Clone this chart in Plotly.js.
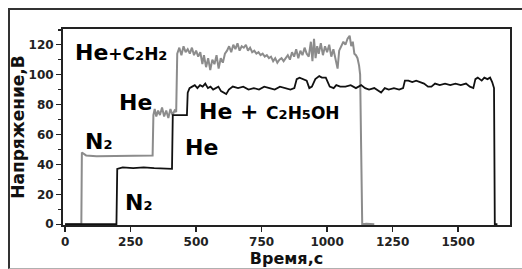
<!DOCTYPE html>
<html>
<head>
<meta charset="utf-8">
<script src="https://cdn.plot.ly/plotly-3.0.1.min.js"></script>
<style>
  html, body { margin: 0; padding: 0; background: #fff; }
  #wrap { position: relative; width: 522px; height: 269px; overflow: hidden; }
  #frame { position: absolute; left: 8px; top: 8px; width: 600px; height: 258px;
           border-top: 2px solid #333; border-left: 2px solid #333; border-bottom: 1px solid #b0b0b0; }
  #chart { position: absolute; left: 0; top: 0; width: 522px; height: 269px; }
</style>
</head>
<body>
<div id="wrap">
  <div id="frame"></div>
  <div id="chart"></div>
</div>
<script>
// He + C2H2 (grey trace): time (s) and voltage (V)
const timeC2H2 = [0, 62, 64, 80, 120, 160, 200, 250, 300, 334, 337, 342, 348, 355, 362, 370, 378, 386, 394, 402, 410, 418, 424,
  428, 436, 444, 452, 460, 468, 476, 484, 492, 500, 508, 516, 524, 530, 538, 546, 554, 562, 570, 578, 586, 594, 602, 610,
  618, 626, 634, 642, 650, 658, 666, 674, 682, 690, 698, 706, 714, 722, 730, 738, 746, 754, 762, 770, 778, 786, 794, 802,
  810, 818, 826, 834, 842, 850, 858, 866, 874, 882, 890, 898, 906, 914, 922, 930, 938, 944, 950, 956, 962, 968, 976, 984,
  992, 1000, 1008, 1016, 1024, 1032, 1040, 1046, 1054, 1062, 1070, 1078, 1086, 1092, 1098, 1104, 1110, 1116, 1122, 1126,
  1130, 1134, 1150, 1165, 1180];
const voltC2H2 = [0, 0, 48, 46, 45.5, 45.5, 45.5, 45.5, 46, 46, 73, 77, 72, 76, 73, 78, 72, 76, 71, 77, 73, 76, 75,
  114, 118, 113, 119, 115, 117, 114, 118, 113, 116, 112, 115, 107, 113, 105, 111, 103, 110, 107, 113, 104, 111, 108, 114,
  116, 119, 115, 120, 117, 121, 116, 119, 118, 120, 116, 118, 115, 116, 114, 115, 113, 114, 112, 113, 111, 112, 109, 111,
  108, 110, 111, 109, 111, 113, 110, 115, 112, 117, 111, 116, 113, 118, 114, 112, 122, 109, 124, 111, 119, 114, 121, 113,
  119, 115, 120, 112, 117, 111, 104, 116, 119, 122, 120, 124, 126, 119, 122, 114, 113, 111, 106, 100,
  50, 0, 0.4, 0, 0];

// He + C2H5OH (black trace): time (s) and voltage (V)
const timeC2H5OH = [0, 196, 199, 220, 260, 300, 340, 380, 408, 411, 440, 465, 468, 475, 485, 495, 505, 515, 525, 535, 545,
  555, 565, 575, 585, 595, 605, 615, 625, 640, 660, 680, 700, 720, 740, 760, 780, 800, 820, 840, 860, 875, 884, 895, 910,
  922, 932, 942, 955, 970, 980, 995, 1010, 1025, 1035, 1050, 1070, 1090, 1110, 1130, 1145, 1160, 1180, 1195, 1206, 1220,
  1235, 1255, 1275, 1290, 1297, 1310, 1325, 1340, 1355, 1370, 1385, 1398, 1412, 1430, 1450, 1470, 1490, 1510, 1530, 1545,
  1558, 1566, 1575, 1590, 1600, 1612, 1622, 1630, 1637, 1640, 1650];
const voltC2H5OH = [0, 0, 37, 38, 37.5, 38, 37.5, 37, 37, 73, 73, 73, 88, 91, 92, 93, 91, 93, 92, 94, 91,
  92, 90, 91, 92, 89, 88, 87, 90, 92, 91, 92, 90, 91, 90, 92, 91, 90, 92, 91, 90, 91, 97, 98, 97,
  96, 91, 92, 97, 99, 98, 98, 92, 91, 93, 92, 92, 93, 91, 93, 91, 90, 91, 89, 88, 91,
  90, 91, 90, 91, 96, 96, 95, 96, 95, 94, 92, 92, 94, 93, 94, 93, 94, 93, 94, 92,
  91, 97, 98, 96, 98, 97, 98, 95, 91, 0, 0];

const xTicks = [0, 250, 500, 750, 1000, 1250, 1500];
const yTicks = [0, 20, 40, 60, 80, 100, 120];

const traces = [
  { x: timeC2H2, y: voltC2H2, type: 'scatter', mode: 'lines', name: 'He+C2H2',
    line: { color: '#8c8c8c', width: 2, shape: 'linear' }, hoverinfo: 'skip' },
  { x: timeC2H5OH, y: voltC2H5OH, type: 'scatter', mode: 'lines', name: 'He+C2H5OH',
    line: { color: '#111111', width: 1.8, shape: 'linear' }, hoverinfo: 'skip' }
];

const big = 22, small = 17, sub = 13;
function ann(text, x, y) {
  return { text: text, x: x, y: y, xref: 'x', yref: 'y', xanchor: 'left', yanchor: 'middle',
    showarrow: false, font: { family: 'DejaVu Sans', size: big, color: '#000', weight: 'bold' } };
}
const S = (t) => "<span style='font-size:" + small + "px'>" + t + "</span>";
const D = (t) => "<span style='font-size:" + sub + "px'>" + t + "</span>";

const layout = {
  width: 522, height: 269,
  margin: { l: 63, r: 12, t: 29, b: 44, pad: 0 },
  paper_bgcolor: 'rgba(0,0,0,0)',
  plot_bgcolor: '#fff',
  showlegend: false,
  font: { family: 'DejaVu Sans', color: '#222' },
  xaxis: {
    range: [-8, 1698], tickvals: xTicks, ticktext: xTicks.map(String),
    ticks: 'outside', ticklen: 5, tickwidth: 1.5, tickcolor: '#222',
    showline: true, linecolor: '#222', linewidth: 2, mirror: true,
    showgrid: false, zeroline: false,
    tickfont: { size: 12, color: '#222', weight: 'bold' },
    title: { text: 'Время,с', standoff: 4, font: { size: 16, color: '#111', weight: 'bold' } }
  },
  yaxis: {
    range: [-0.5, 130.5], tickvals: yTicks, ticktext: yTicks.map(String),
    ticks: 'outside', ticklen: 5, tickwidth: 1.5, tickcolor: '#222',
    minor: { dtick: 10, tick0: 0, ticks: 'outside', ticklen: 3, tickwidth: 1.5, tickcolor: '#222' },
    showline: true, linecolor: '#222', linewidth: 2, mirror: true,
    showgrid: false, zeroline: false,
    tickfont: { size: 12, color: '#222', weight: 'bold' },
    title: { text: 'Напряжение,В', standoff: 0, font: { size: 17, color: '#111', weight: 'bold' } }
  },
  annotations: [
    ann('He' + S('+C' + D('2') + 'H' + D('2')), 31, 114.6),
    ann('He', 198, 81.2),
    ann('N' + D('2'), 69, 55.1),
    ann('He + ' + S('C' + D('2') + 'H' + D('5') + 'OH'), 504, 75.2),
    ann('He', 450, 51.1),
    ann('N' + D('2'), 221, 14.4)
  ]
};

Plotly.newPlot('chart', traces, layout, { staticPlot: true, displayModeBar: false });
</script>
</body>
</html>
